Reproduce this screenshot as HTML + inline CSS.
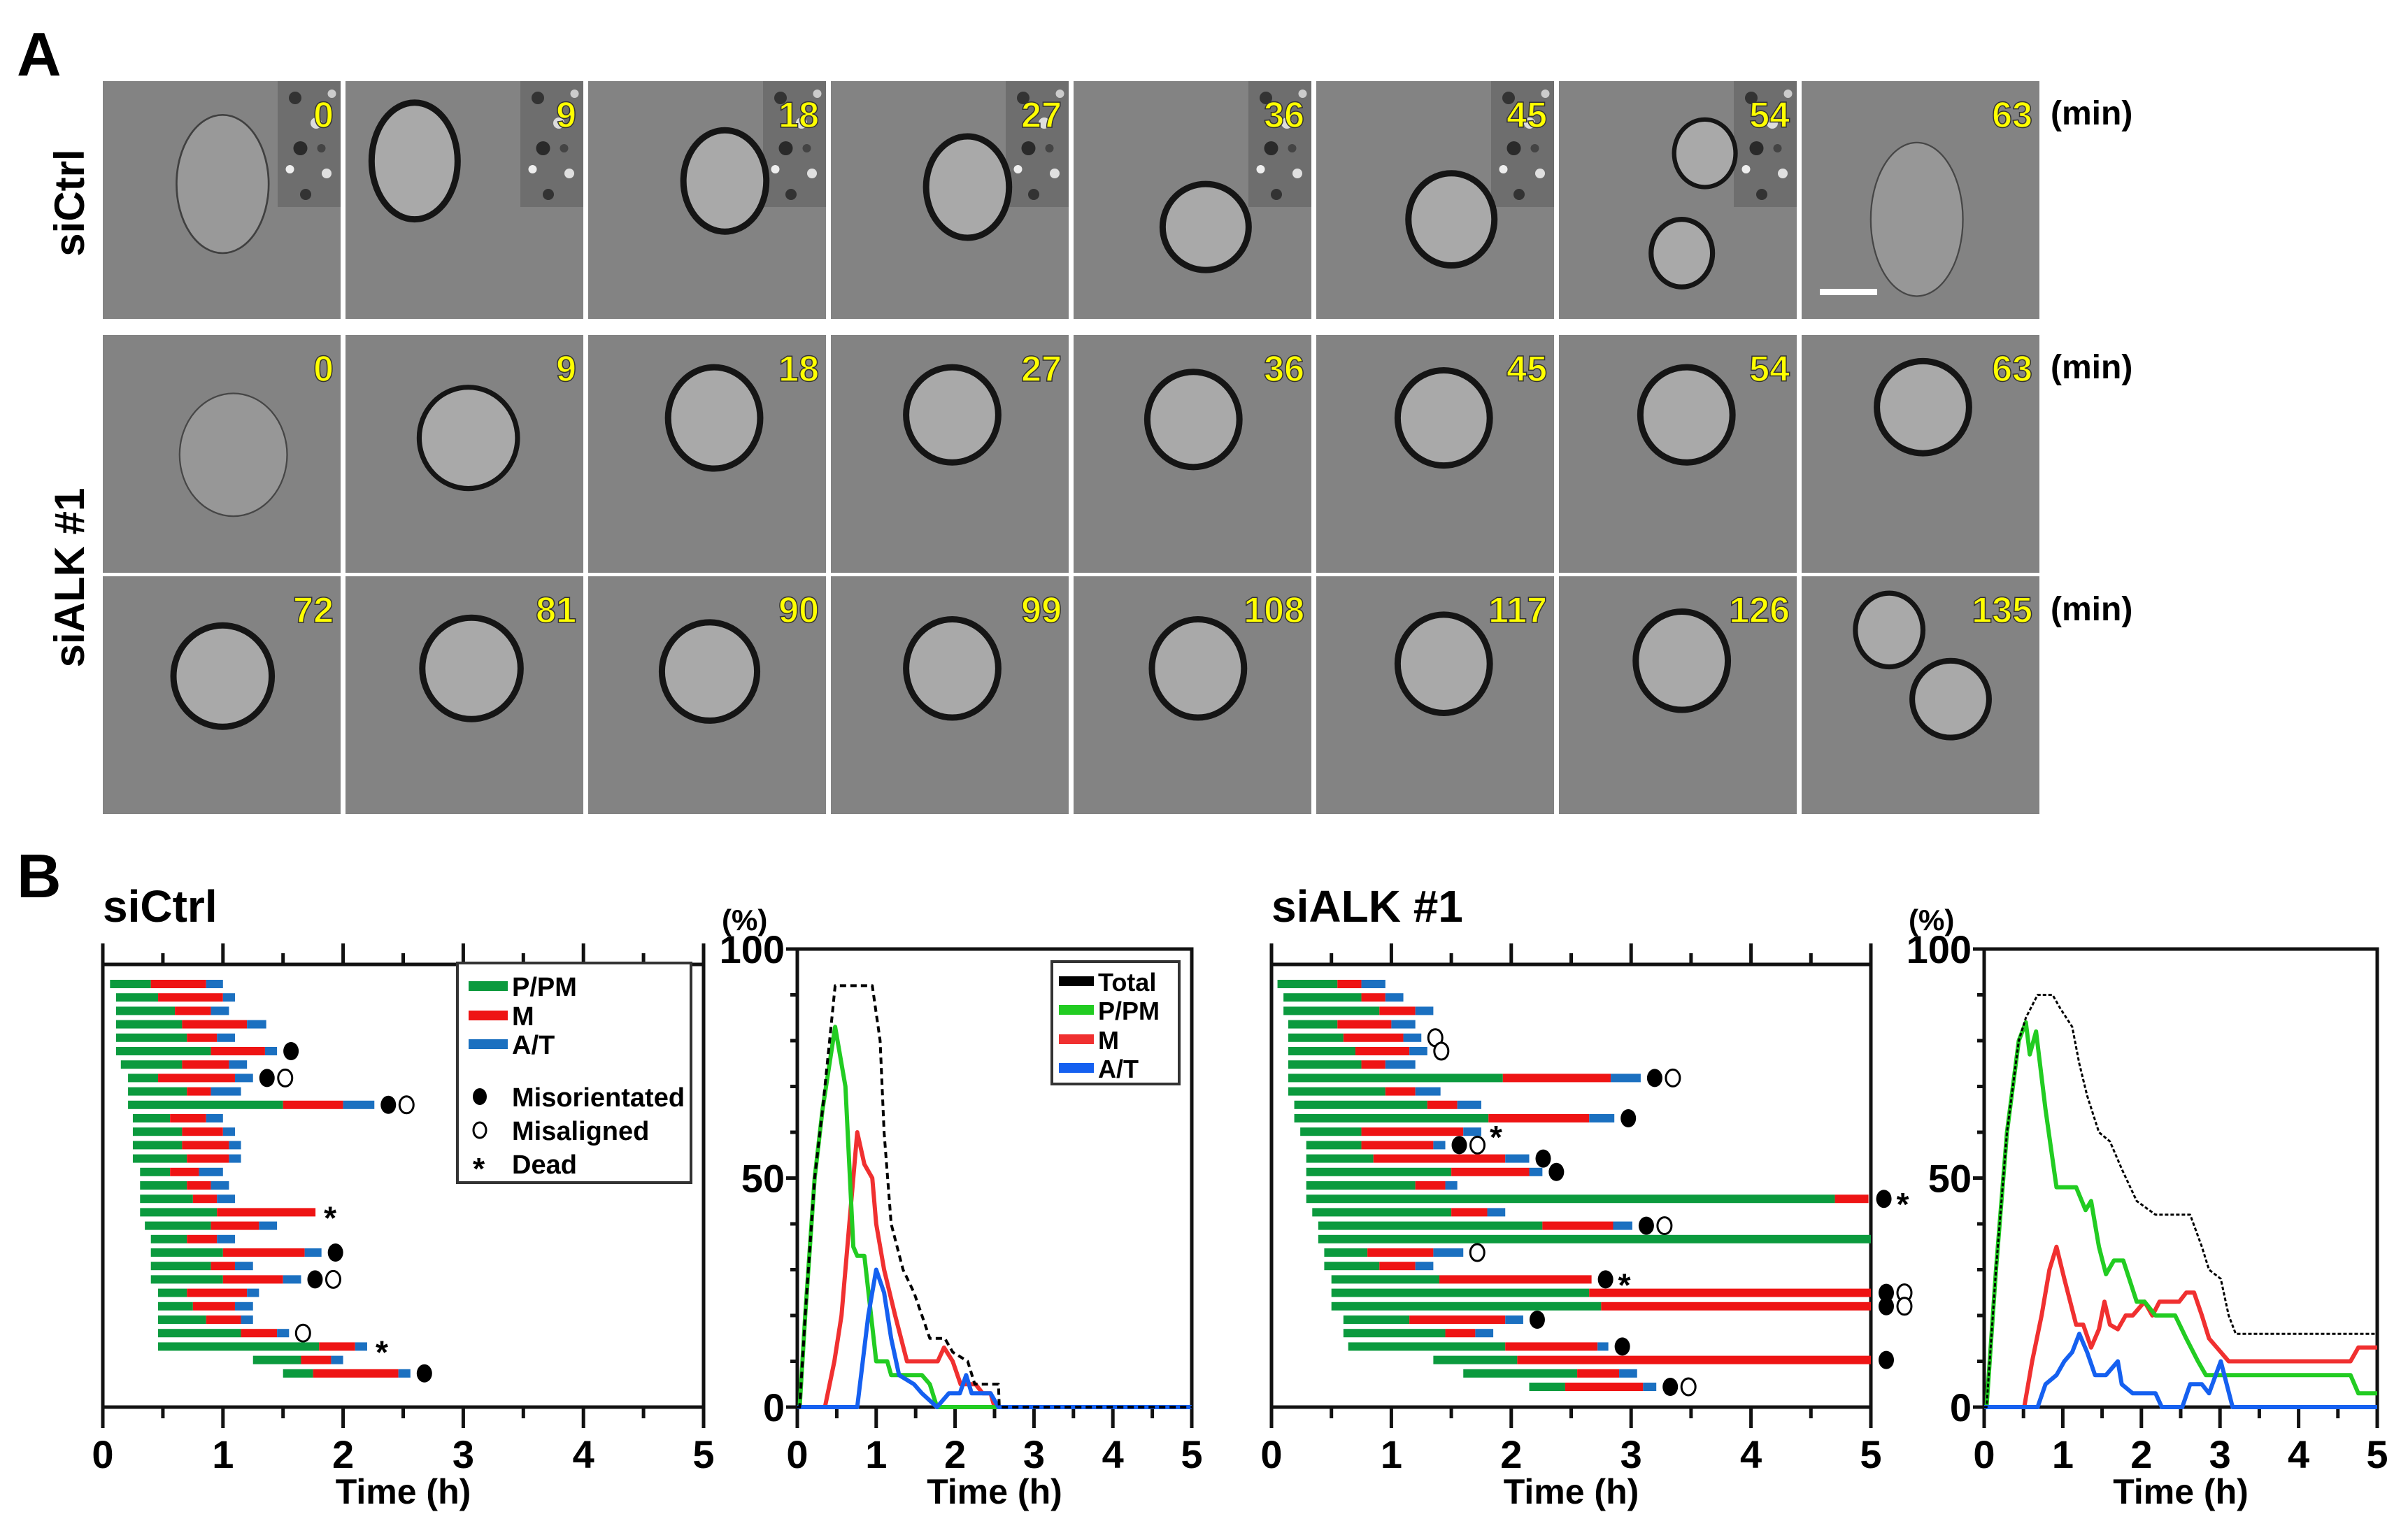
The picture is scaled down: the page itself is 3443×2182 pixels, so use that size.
<!DOCTYPE html>
<html><head><meta charset="utf-8"><style>
html,body{margin:0;padding:0;background:#fff;}
svg{display:block;font-family:"Liberation Sans",sans-serif;}
</style></head><body>
<svg id="fig" width="3443" height="2182" viewBox="0 0 3443 2182" xmlns="http://www.w3.org/2000/svg">
<rect width="3443" height="2182" fill="#fff"/>
<text x="24" y="108" font-size="88" font-weight="bold">A</text>
<text x="24" y="1283" font-size="88" font-weight="bold">B</text>
<text transform="translate(120,290) rotate(-90)" text-anchor="middle" font-size="60" font-weight="bold">siCtrl</text>
<text transform="translate(120,826) rotate(-90)" text-anchor="middle" font-size="60" font-weight="bold">siALK #1</text>
<g id="tiles"></g>
<text x="2932" y="178" font-size="48" font-weight="bold">(min)</text>
<text x="2932" y="541" font-size="48" font-weight="bold">(min)</text>
<text x="2932" y="887" font-size="48" font-weight="bold">(min)</text>
<text x="147" y="1318" font-size="64" font-weight="bold">siCtrl</text>
<text x="1818" y="1318" font-size="64" font-weight="bold">siALK #1</text>
<g id="charts"></g>
</svg>
<script>
// ---- chart data ----
const ctrlStart=[0.06,0.11,0.11,0.11,0.11,0.11,0.15,0.21,0.21,0.21,0.25,0.25,0.25,0.25,0.31,0.31,0.31,0.31,0.35,0.40,0.40,0.40,0.40,0.46,0.46,0.46,0.46,0.46,1.25,1.50];
const ctrlGreenEnd=[0.40,0.46,0.60,0.66,0.70,0.90,0.66,0.46,0.70,1.50,0.56,0.66,0.66,0.70,0.56,0.70,0.75,0.95,0.90,0.70,1.00,0.90,1.00,0.70,0.75,0.86,1.15,1.80,1.65,1.75];
const ctrlRedEnd=[0.86,1.00,0.90,1.20,0.95,1.35,1.05,1.10,0.90,2.00,0.86,1.00,1.05,1.05,0.80,0.90,0.95,1.77,1.30,0.95,1.68,1.10,1.50,1.20,1.10,1.15,1.45,2.10,1.90,2.46];
const ctrlBlueEnd=[1.00,1.10,1.05,1.36,1.10,1.45,1.20,1.25,1.15,2.26,1.00,1.10,1.15,1.15,1.00,1.05,1.10,1.77,1.45,1.10,1.82,1.25,1.65,1.30,1.25,1.25,1.55,2.20,2.00,2.56];
const ctrlMarks=['','','','','','f','','fo','','fo','','','','','','','','*','','','f','','fo','','','','o','*','','f'];
const alkStart=[0.05,0.10,0.10,0.14,0.14,0.14,0.14,0.14,0.14,0.19,0.19,0.24,0.29,0.29,0.29,0.29,0.29,0.34,0.39,0.39,0.44,0.44,0.50,0.50,0.50,0.60,0.60,0.64,1.35,1.60,2.15];
const alkGreenEnd=[0.55,0.75,0.90,0.55,0.60,0.70,0.75,1.93,0.95,1.30,1.81,0.75,0.75,0.85,1.50,1.20,4.70,1.50,2.26,5.00,0.80,0.90,1.40,2.65,2.75,1.15,1.45,1.95,2.05,2.55,2.45];
const alkRedEnd=[0.75,0.95,1.20,1.00,1.10,1.15,0.95,2.83,1.20,1.55,2.65,1.60,1.35,1.95,2.15,1.45,4.98,1.80,2.85,5.00,1.35,1.20,2.67,5.00,5.00,1.95,1.70,2.72,5.00,2.90,3.10];
const alkBlueEnd=[0.95,1.10,1.35,1.20,1.25,1.30,1.20,3.08,1.41,1.75,2.86,1.75,1.45,2.15,2.26,1.55,4.98,1.95,3.01,5.00,1.60,1.35,2.67,5.00,5.00,2.10,1.85,2.81,5.00,3.05,3.21];
const alkMarks=['','','','','o','o','','fo','','','f','*','fo','f','f','','f*','','fo','','o','','f*','fo','fo','f','','f','f','','fo'];
const xTickLabels=['0','1','2','3','4','5'];
const yTickLabels=['0','50','100'];
// line chart 1 (siCtrl)
const c1TotalT=[0,0.03,0.1,0.22,0.32,0.41,0.48,0.95,1.05,1.10,1.19,1.34,1.48,1.58,1.68,1.87,1.97,2.16,2.25,2.55,2.56,5];
const c1TotalV=[0,0,20,50,65,80,92,92,80,60,40,30,25,20,15,15,12,10,5,5,0,0];
const c1GreenT=[0,0.03,0.1,0.22,0.32,0.48,0.61,0.71,0.76,0.85,1.0,1.14,1.19,1.58,1.68,1.77,5];
const c1GreenV=[0,0,20,50,65,83,70,35,33,33,10,10,7,7,5,0,0];
const c1RedT=[0,0.35,0.47,0.56,0.66,0.76,0.85,0.95,1.0,1.10,1.24,1.39,1.78,1.86,1.97,2.07,2.26,2.35,2.45,2.5,5];
const c1RedV=[0,0,10,20,40,60,53,50,40,30,20,10,10,13,10,5,5,3,3,0,0];
const c1BlueT=[0,0.76,0.90,1.0,1.10,1.19,1.29,1.48,1.58,1.77,1.92,2.06,2.14,2.21,2.45,2.55,5];
const c1BlueV=[0,0,20,30,25,15,7,5,3,0,3,3,7,3,3,0,0];
// line chart 2 (siALK #1)
const c2TotalT=[0,0.03,0.15,0.29,0.44,0.53,0.68,0.87,0.97,1.12,1.21,1.31,1.46,1.60,1.75,1.94,2.18,2.28,2.62,2.77,2.86,3.01,3.11,3.20,5.0];
const c2TotalV=[0,0,30,60,80,85,90,90,87,83,75,68,60,58,52,45,42,42,42,35,30,28,20,16,16];
const c2GreenT=[0,0.03,0.15,0.29,0.44,0.53,0.58,0.66,0.78,0.92,1.17,1.29,1.36,1.46,1.55,1.65,1.77,1.94,2.04,2.18,2.43,2.57,2.72,2.82,4.66,4.76,5.0];
const c2GreenV=[0,0,30,60,80,84,77,82,65,48,48,43,45,35,29,32,32,23,23,20,20,15,10,7,7,3,3];
const c2RedT=[0,0.51,0.61,0.73,0.83,0.92,1.02,1.17,1.26,1.36,1.46,1.53,1.60,1.70,1.80,1.89,2.04,2.14,2.23,2.48,2.57,2.67,2.77,2.86,2.96,3.11,4.66,4.76,5.0];
const c2RedV=[0,0,10,20,30,35,28,18,18,13,17,23,18,17,20,20,23,20,23,23,25,25,20,15,13,10,10,13,13];
const c2BlueT=[0,0.68,0.78,0.92,1.02,1.12,1.21,1.31,1.41,1.55,1.70,1.75,1.89,2.18,2.26,2.52,2.62,2.77,2.86,3.01,3.16,5.0];
const c2BlueV=[0,0,5,7,10,12,16,12,7,7,10,5,3,3,0,0,5,5,3,10,0,0];

const NS='http://www.w3.org/2000/svg';
function mk(parent,tag,attrs){const e=document.createElementNS(NS,tag);for(const k in attrs)e.setAttribute(k,attrs[k]);parent.appendChild(e);return e;}

// ---- microscopy tiles ----
const tiles=document.getElementById('tiles');
const colX=[147,494,841,1188,1535,1882,2229,2576];
const rowY=[116,479,824];
const labels=[['0','9','18','27','36','45','54','63'],['0','9','18','27','36','45','54','63'],['72','81','90','99','108','117','126','135']];
const cells=[
 [[[78,67,30,45,0.3]],[[45,52,28,38,1]],[[89,65,27,33,1]],[[89,69,27,33,1]],[[86,95,28,28,1]],[[88,90,28,30,1]],[[95,47,20,22,0.7],[80,112,20,22,0.8]],[[75,90,30,50,0.25]]],
 [[[85,78,35,40,0.25]],[[80,67,32,33,0.8]],[[82,54,30,33,1]],[[79,52,30,31,1]],[[78,55,30,31,1]],[[83,54,30,31,1]],[[83,52,30,31,1]],[[79,47,30,30,1]]],
 [[[78,65,32,33,1]],[[82,60,32,33,1]],[[79,62,31,32,1]],[[79,60,30,32,1]],[[81,60,30,32,1]],[[83,57,30,32,1]],[[80,55,30,32,1]],[[57,35,22,24,0.8],[97,80,25,25,0.9]]]
];
const debris=[[10,20,9,'#333'],[30,50,8,'#ddd'],[15,80,10,'#2a2a2a'],[40,110,7,'#e0e0e0'],[20,135,8,'#333'],[45,15,6,'#ccc'],[5,105,6,'#eee'],[35,80,6,'#444']];
const S=2.196;
for(let r=0;r<3;r++)for(let c=0;c<8;c++){
 const x=colX[c],y=rowY[r];
 const g=mk(tiles,'g',{});
 
 
 mk(g,'rect',{x:x,y:y,width:340,height:340,fill:'#838383'});
 if(r===0&&c<7){
  mk(g,'rect',{x:x+250,y:y,width:90,height:180,fill:'#6e6e6e'});
  for(const d of debris) mk(g,'circle',{cx:x+260+d[0]*1.5,cy:y+d[1]*1.2,r:d[2],fill:d[3]});
 }
 for(const ce of cells[r][c]){
  mk(g,'ellipse',{cx:x+ce[0]*S,cy:y+ce[1]*S,rx:ce[2]*S,ry:ce[3]*S,fill:'#a9a9a9',stroke:'#151515','stroke-width':9*ce[4],opacity:Math.min(1,0.3+ce[4])});
 }
 const t=mk(g,'text',{x:x+330,y:y+66,'text-anchor':'end','font-size':52,'font-weight':'bold',fill:'#ffff00',stroke:'#333','stroke-width':1.5});
 t.textContent=labels[r][c];
 
 
}
const sb=mk(tiles,'rect',{x:2602,y:413,width:82,height:9,fill:'#fff'});



// ---- charts ----
const charts=document.getElementById('charts');
const TOP=1379,BOT=2012,ROW0=1407,ROWH=19.2,BARH=12;

function xAxisTicks(g,x0,x5,base,outward){
 for(let i=0;i<=10;i++){
  const x=x0+(x5-x0)*i/10;const L=(i%2===0)?30:16;
  mk(g,'line',{x1:x,x2:x,y1:base,y2:base+outward*L,stroke:'#111','stroke-width':5});
 }
}
function xLabels(g,x0,x5){
 xTickLabels.forEach((lab,i)=>{
  const t=mk(g,'text',{x:x0+(x5-x0)*i/5,y:2099,'text-anchor':'middle','font-size':56,'font-weight':'bold'});
  t.textContent=lab;
  
  
 });
 const tt=mk(g,'text',{x:(x0+x5)/2,y:2150,'text-anchor':'middle','font-size':50,'font-weight':'bold'});
 tt.textContent='Time (h)';
 
 
}
function gantt(name,x0,x5,st,ge,re,be,marks){
 const g=mk(charts,'g',{});
 
 
 const sx=h=>x0+(x5-x0)*h/5;
 mk(g,'rect',{x:x0,y:TOP,width:x5-x0,height:BOT-TOP,fill:'none',stroke:'#111','stroke-width':5});
 xAxisTicks(g,x0,x5,TOP,-1);
 xAxisTicks(g,x0,x5,BOT,1);
 xLabels(g,x0,x5);
 st.forEach((s,i)=>{
  const y=ROW0+i*ROWH-BARH/2;
  const segs=[[s,ge[i],'#0b9a3e'],[ge[i],re[i],'#ee1414'],[re[i],be[i],'#1b70c0']];
  segs.forEach(sg=>{
   if(sg[1]>sg[0]){
    const b=mk(g,'rect',{x:sx(sg[0]),y:y,width:sx(sg[1])-sx(sg[0]),height:BARH,fill:sg[2]});
    
    
   }
  });
  let mx=Math.min(sx(be[i]),x5)+(be[i]>=4.97?22:20);
  for(const ch of marks[i]){
   const cy=ROW0+i*ROWH;
   if(ch==='f'){const m=mk(g,'ellipse',{cx:mx,cy:cy,rx:11,ry:13,fill:'#000'});mx+=26;}
   else if(ch==='o'){const m=mk(g,'ellipse',{cx:mx,cy:cy,rx:10,ry:12,fill:'#fff',stroke:'#000','stroke-width':3});mx+=26;}
   else if(ch==='*'){const m=mk(g,'text',{x:mx-8,y:cy+24,'font-size':46,'font-weight':'bold'});m.textContent='*';mx+=26;}
  }
 });
 return g;
}
gantt('sictrl-gantt-chart',147,1006,ctrlStart,ctrlGreenEnd,ctrlRedEnd,ctrlBlueEnd,ctrlMarks);
gantt('sialk-gantt-chart',1818,2675,alkStart,alkGreenEnd,alkRedEnd,alkBlueEnd,alkMarks);

function lineChart(name,x0,x5,series){
 const Y100=1357,Y0=2012;
 const g=mk(charts,'g',{});
 
 
 const sx=h=>x0+(x5-x0)*h/5, sy=v=>Y0-(Y0-Y100)*v/100;
 mk(g,'rect',{x:x0,y:Y100,width:x5-x0,height:Y0-Y100,fill:'none',stroke:'#111','stroke-width':5});
 xAxisTicks(g,x0,x5,Y0,1);
 xLabels(g,x0,x5);
 for(let v=0;v<=100;v+=10){mk(g,'line',{x1:x0,x2:x0-(v%50===0?16:10),y1:sy(v),y2:sy(v),stroke:'#111','stroke-width':5});}
 yTickLabels.forEach(l=>{
  const t=mk(g,'text',{x:x0-18,y:sy(+l)+20,'text-anchor':'end','font-size':56,'font-weight':'bold'});
  t.textContent=l;
  
  
 });
 const p=mk(g,'text',{x:x0-108,y:1330,'font-size':42,'font-weight':'bold'});
 p.textContent='(%)';
 
 
 series.forEach(s=>{
  const d=s.t.map((t,i)=>(i?'L':'M')+sx(t).toFixed(1)+','+sy(s.v[i]).toFixed(1)).join(' ');
  const path=mk(g,'path',{d:d,fill:'none',stroke:s.c,'stroke-width':s.w,'stroke-dasharray':s.dash||'none','stroke-linejoin':'round'});
  
  
 });
 return g;
}
lineChart('sictrl-line-chart',1140,1704,[
 {t:c1RedT,v:c1RedV,c:'#f03030',w:6,n:'m-line'},
 {t:c1GreenT,v:c1GreenV,c:'#22cc22',w:6,n:'ppm-line'},
 {t:c1BlueT,v:c1BlueV,c:'#1560f0',w:6,n:'at-line'},
 {t:c1TotalT,v:c1TotalV,c:'#000',w:4,dash:'9 6',n:'total-line'}]);
lineChart('sialk-line-chart',2837,3399,[
 {t:c2RedT,v:c2RedV,c:'#f03030',w:6,n:'m-line'},
 {t:c2GreenT,v:c2GreenV,c:'#22cc22',w:6,n:'ppm-line'},
 {t:c2BlueT,v:c2BlueV,c:'#1560f0',w:6,n:'at-line'},
 {t:c2TotalT,v:c2TotalV,c:'#000',w:3,dash:'5 3',n:'total-line'}]);

// ---- legends ----
function legend(name,x,y,w,h,items,sw,tx,fs){
 const g=mk(charts,'g',{});
 
 
 mk(g,'rect',{x:x,y:y,width:w,height:h,fill:'#fff',stroke:'#333','stroke-width':4});
 items.forEach(it=>{
  if(it.c) mk(g,'rect',{x:x+sw[0],y:it.y-7,width:sw[1],height:14,fill:it.c});
  else if(it.k==='f') mk(g,'ellipse',{cx:x+sw[0]+16,cy:it.y,rx:10,ry:12,fill:'#000'});
  else if(it.k==='o') mk(g,'ellipse',{cx:x+sw[0]+16,cy:it.y,rx:9,ry:11,fill:'#fff',stroke:'#000','stroke-width':3});
  else if(it.k==='*'){const s=mk(g,'text',{x:x+sw[0]+6,y:it.y+22,'font-size':44,'font-weight':'bold'});s.textContent='*';}
  const t=mk(g,'text',{x:x+tx,y:it.y+14,'font-size':fs,'font-weight':'bold'});
  t.textContent=it.l;
  
  
 });
}
legend('sictrl-gantt-legend',654,1377,334,314,[
 {l:'P/PM',c:'#0b9a3e',y:1410},{l:'M',c:'#ee1414',y:1452},{l:'A/T',c:'#1b70c0',y:1493},
 {l:'Misorientated',k:'f',y:1568},{l:'Misaligned',k:'o',y:1616},{l:'Dead',k:'*',y:1664}],[16,56],78,38);
legend('sictrl-line-legend',1504,1375,182,175,[
 {l:'Total',c:'#000',y:1403},{l:'P/PM',c:'#22cc22',y:1444},{l:'M',c:'#f03030',y:1486},{l:'A/T',c:'#1560f0',y:1527}],[10,50],66,36);
</script>
</body></html>
